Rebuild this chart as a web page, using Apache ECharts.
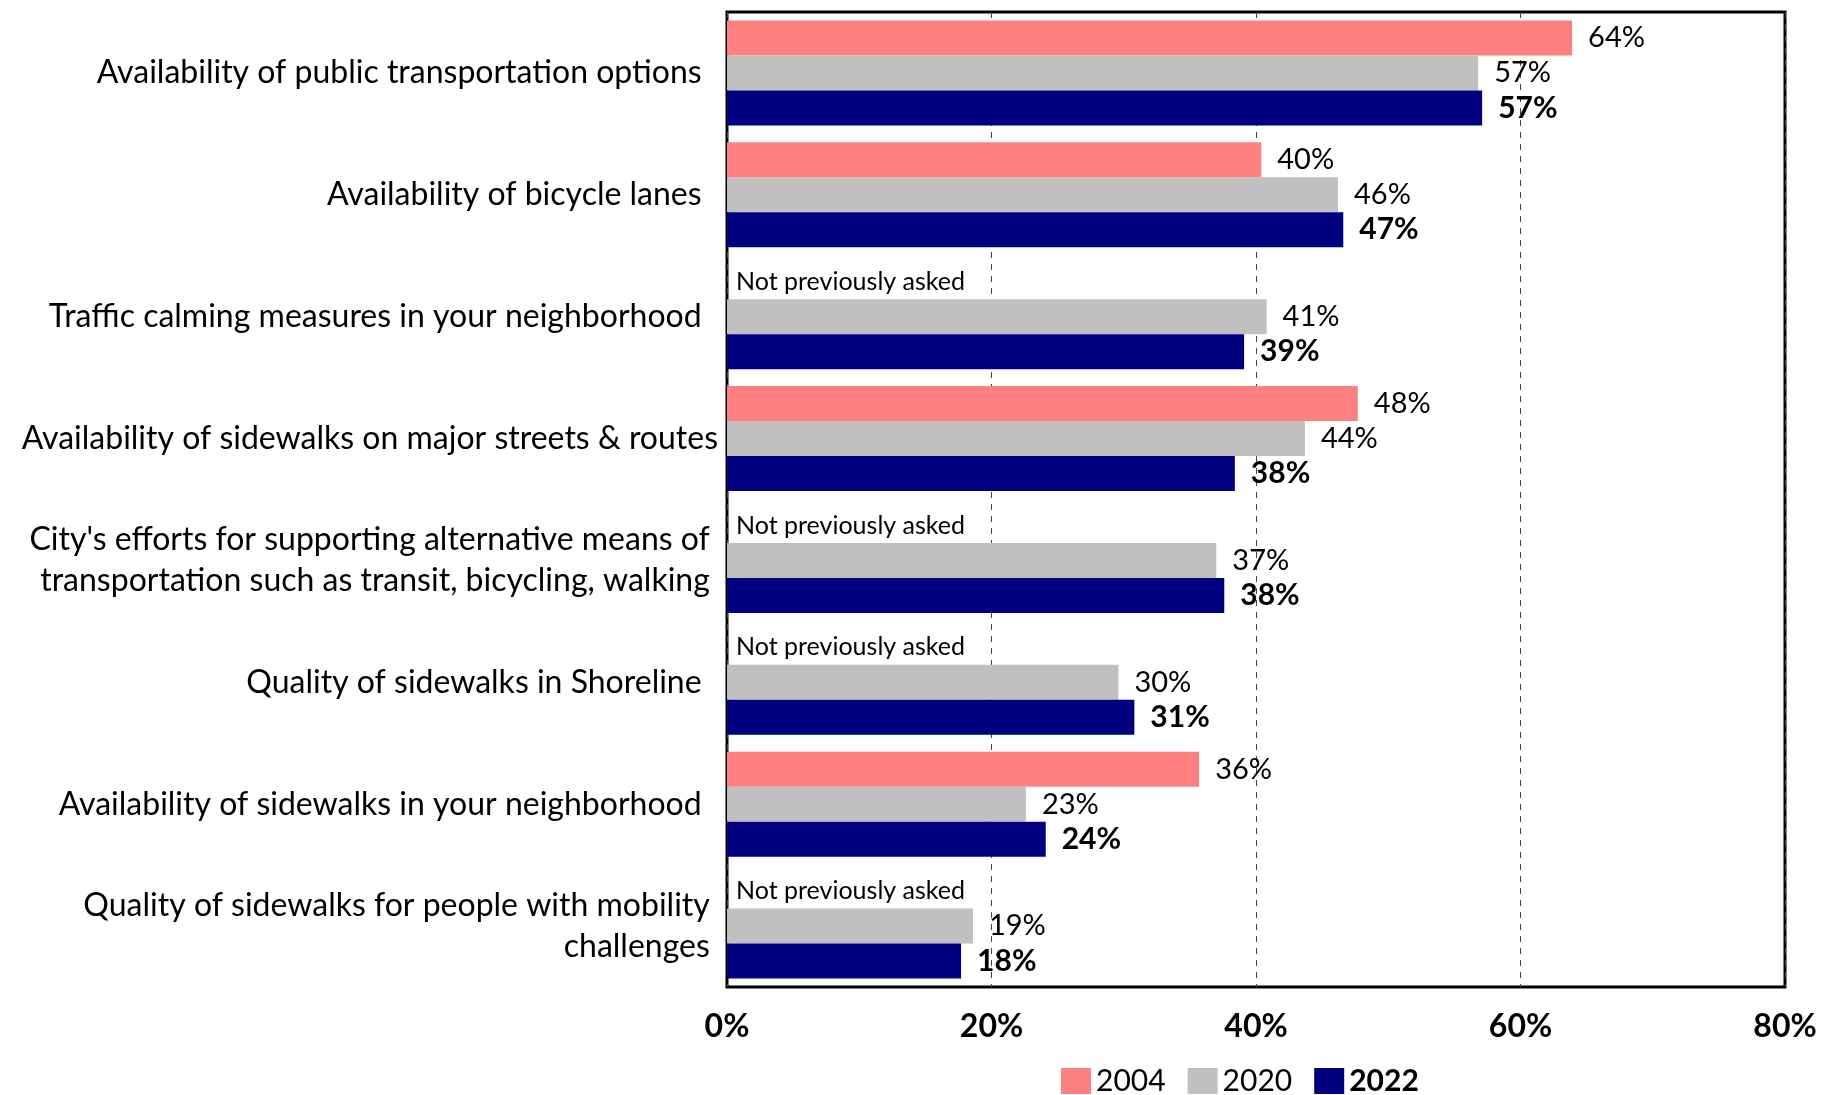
<!DOCTYPE html>
<html><head><meta charset="utf-8">
<script src="https://cdn.jsdelivr.net/npm/echarts@6/dist/echarts.min.js"></script>
<style>html,body{margin:0;padding:0;background:#fff}#c{width:1836px;height:1095px}</style>
</head><body><div id="c"></div>
<script>
const categories = [
  "Availability of public transportation options  ",
  "Availability of bicycle lanes  ",
  "Traffic calming measures in your neighborhood  ",
  "Availability of sidewalks on major streets & routes",
  "City's efforts for supporting alternative means of \ntransportation such as transit, bicycling, walking ",
  "Quality of sidewalks in Shoreline  ",
  "Availability of sidewalks in your neighborhood  ",
  "Quality of sidewalks for people with mobility \nchallenges "
];
const values2004 = [63.9, 40.4, null, 47.7, null, null, 35.7, null];
const values2020 = [56.8, 46.2, 40.8, 43.7, 37.0, 29.6, 22.6, 18.6];
const values2022 = [57.1, 46.6, 39.1, 38.4, 37.6, 30.8, 24.1, 17.7];
const xTicks = [0, 20, 40, 60, 80];
const notAskedText = "Not previously asked";

const FONT = "Lato";
const pct = p => Math.round(p.value) + "%";

const chart = echarts.init(document.getElementById('c'), null, {renderer: 'canvas'});
const data2004 = values2004.map(v => v === null
  ? {value: 0, label: {formatter: notAskedText, fontSize: 25, distance: 9}}
  : v);

chart.setOption({
  animation: false,
  textStyle: {fontFamily: FONT, color: '#000'},
  grid: {left: 727, right: 51, top: 12, bottom: 108, show: true, borderColor: '#000', borderWidth: 3, backgroundColor: 'transparent'},
  legend: {
    left: 1056, top: 1061, itemWidth: 30, itemHeight: 26, itemGap: 22,
    icon: 'rect',
    textStyle: {fontFamily: FONT, fontSize: 30, color: '#000'},
    data: [{name: '2004'}, {name: '2020'}, {name: '2022', textStyle: {fontWeight: 'bold'}}]
  },
  xAxis: {
    type: 'value', min: xTicks[0], max: xTicks[xTicks.length - 1], interval: 20,
    axisLine: {show: false}, axisTick: {show: false},
    splitLine: {show: true, lineStyle: {color: '#444', type: [6, 6], width: 1}},
    axisLabel: {formatter: '{value}%', fontFamily: FONT, fontSize: 32, fontWeight: 'bold', color: '#000', margin: 24}
  },
  yAxis: {
    type: 'category', inverse: true, data: categories,
    axisLine: {show: false}, axisTick: {show: false},
    axisLabel: {fontFamily: FONT, fontSize: 32, color: '#000', margin: 9, lineHeight: 41, align: 'right'}
  },
  series: [
    {name: '2004', type: 'bar', data: data2004, barWidth: 35, barGap: '0%',
     itemStyle: {color: '#FF8080'},
     label: {show: true, position: 'right', distance: 16, formatter: pct, fontFamily: FONT, fontSize: 29, color: '#000'}},
    {name: '2020', type: 'bar', data: values2020, barWidth: 35, barGap: '0%',
     itemStyle: {color: '#C0C0C0'},
     label: {show: true, position: 'right', distance: 16, formatter: pct, fontFamily: FONT, fontSize: 29, color: '#000'}},
    {name: '2022', type: 'bar', data: values2022, barWidth: 35, barGap: '0%',
     itemStyle: {color: '#000080'},
     label: {show: true, position: 'right', distance: 16, formatter: pct, fontFamily: FONT, fontSize: 30, fontWeight: 'bold', color: '#000'}}
  ]
});
</script></body></html>
